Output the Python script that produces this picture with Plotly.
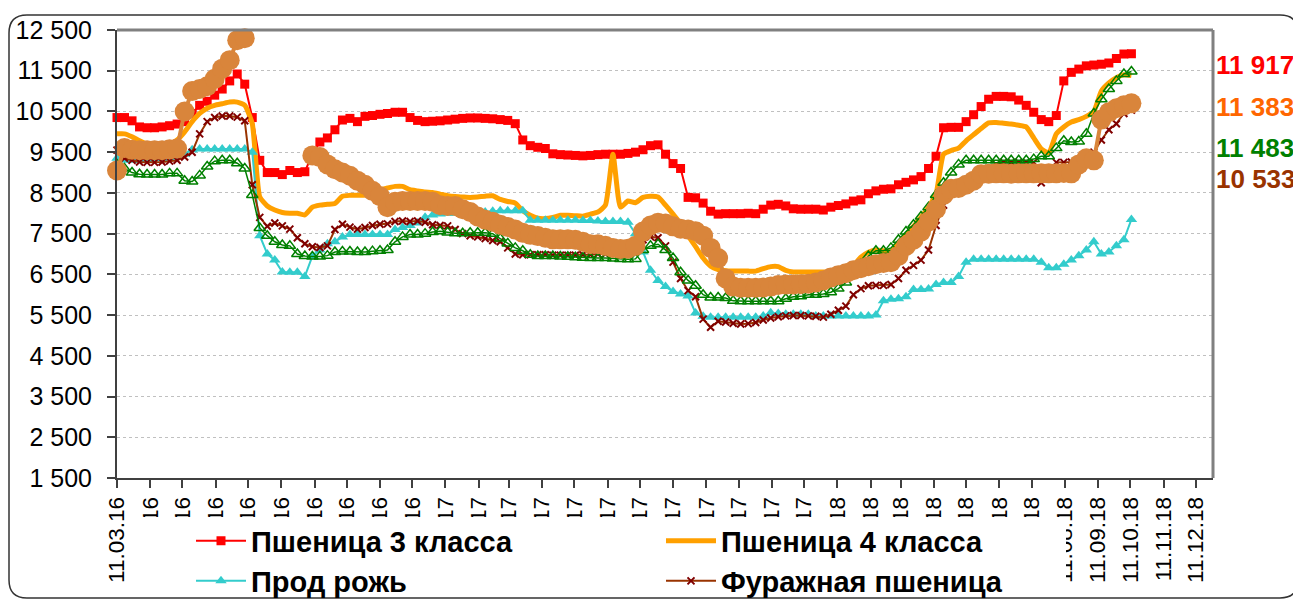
import plotly.graph_objects as go
import pandas as pd

# ---------------- data ----------------
start_date = "2016-03-11"
n_weeks = 136
dates = pd.date_range(start_date, periods=n_weeks, freq="7D")

wheat3 = [10350, 10350, 10270, 10120, 10100, 10100, 10120, 10150, 10190, 10250,
          10450, 10650, 10750, 10900, 11050, 11250, 11420, 11170, 10350, 9300,
          9000, 9000, 8950, 9050, 9000, 9020, 9450, 9750, 9850, 10050,
          10290, 10330, 10250, 10380, 10400, 10430, 10450, 10480, 10480, 10350,
          10280, 10250, 10260, 10270, 10290, 10310, 10330, 10340, 10340, 10330,
          10320, 10300, 10280, 10200, 9800, 9660, 9620, 9590, 9460, 9440,
          9430, 9420, 9410, 9420, 9440, 9450, 9450, 9450, 9470, 9500,
          9560, 9660, 9680, 9450, 9220, 9100, 8390, 8380, 8250, 8050,
          7980, 7990, 7990, 7990, 8000, 7990, 8100, 8200, 8220, 8180,
          8110, 8100, 8100, 8100, 8080, 8150, 8190, 8230, 8300, 8330,
          8480, 8550, 8590, 8600, 8700, 8760, 8820, 8900, 9100, 9400,
          10100, 10110, 10110, 10250, 10420, 10620, 10800, 10870, 10870, 10860,
          10780, 10650, 10480, 10300, 10250, 10400, 11250, 11460, 11540, 11620,
          11640, 11660, 11690, 11800, 11910, 11917]

wheat4 = [9950, 9950, 9880, 9780, 9700, 9650, 9650, 9700, 9800, 10000,
          10250, 10450, 10580, 10650, 10690, 10730, 10730, 10650, 10200, 8400,
          8180, 8080, 8020, 8000, 8000, 7960, 8150, 8200, 8220, 8240,
          8420, 8440, 8440, 8450, 8500, 8580, 8620, 8660, 8660, 8580,
          8550, 8520, 8510, 8470, 8430, 8410, 8400, 8390, 8400, 8420,
          8430, 8340, 8290, 8250, 8060, 7950, 7880, 7870, 7900, 7950,
          7950, 7940, 7930, 7980, 8030, 8200, 9450, 8150, 8300, 8260,
          8390, 8420, 8400, 8200, 7980, 7750, 7450, 7180, 6900, 6700,
          6620, 6590, 6580, 6580, 6580, 6580, 6640, 6690, 6690, 6600,
          6560, 6560, 6560, 6560, 6560, 6560, 6570, 6600, 6720, 6920,
          7040, 7100, 7080, 7060, 7250, 7450, 7680, 7900, 8150, 8480,
          9450, 9540, 9600, 9780, 9930, 10080, 10220, 10230, 10210, 10190,
          10160, 10120, 9850, 9580, 9480, 9950, 10120, 10240, 10300, 10380,
          10500, 11000, 11200, 11330, 11400, 11383]

rye = [9350, 9300, 9300, 9300, 9320, 9340, 9350, 9350, 9380, 9450,
       9560, 9580, 9580, 9580, 9580, 9580, 9580, 9580, 9500, 7450,
       7000, 6850, 6560, 6550, 6550, 6450, 6950, 7100, 7250, 7300,
       7420, 7480, 7480, 7480, 7480, 7480, 7480, 7600, 7650, 7700,
       7760, 7900, 7960, 7980, 8000, 8000, 8000, 8000, 8010, 8030,
       8050, 8060, 8060, 8060, 8060, 7830, 7830, 7830, 7830, 7830,
       7830, 7830, 7820, 7820, 7810, 7800, 7800, 7800, 7780, 7500,
       7050, 6600, 6350, 6200, 6080, 6020, 5970, 5550, 5470, 5450,
       5450, 5450, 5450, 5450, 5450, 5450, 5480, 5560, 5540, 5520,
       5520, 5520, 5520, 5480, 5480, 5480, 5480, 5480, 5480, 5480,
       5480, 5500, 5850, 5890, 5900, 5950, 6130, 6130, 6140, 6250,
       6300, 6300, 6450, 6800, 6870, 6870, 6870, 6870, 6870, 6870,
       6870, 6870, 6870, 6800, 6660, 6660, 6750, 6850, 6960, 7100,
       7300, 7000, 7050, 7200, 7350, 7850]

feed = [9550, 9350, 9300, 9260, 9250, 9250, 9260, 9280, 9300, 9380,
        9500, 9950, 10250, 10350, 10390, 10390, 10360, 10270, 8700, 7900,
        7680, 7760, 7690, 7610, 7400, 7250, 7180, 7160, 7200, 7600,
        7730, 7660, 7610, 7650, 7700, 7730, 7740, 7800, 7810, 7800,
        7810, 7780, 7720, 7700, 7690, 7600, 7500, 7450, 7420, 7380,
        7330, 7300, 7150, 7000, 6980, 6980, 6980, 6980, 6970, 6970,
        6970, 6970, 6980, 6980, 7000, 7000, 7050, 7100, 7150, 7250,
        7350, 7420, 7400, 7200, 6800, 6400, 6100, 5950, 5400, 5200,
        5350, 5330, 5300, 5280, 5290, 5320, 5380, 5430, 5460, 5480,
        5490, 5490, 5480, 5470, 5450, 5520, 5620, 5720, 6000, 6150,
        6220, 6230, 6230, 6250, 6400, 6600, 6720, 6850, 7100, 7700,
        8200, 8500, 8650, 8800, 8900, 9000, 9100, 9200, 9250, 9250,
        9250, 9250, 9250, 8750, 8900, 9250, 9250, 9260, 9280, 9300,
        9500, 9800, 10050, 10200, 10450, 10533]

series5 = [9200, 9100, 9000, 8960, 8950, 8950, 8950, 8980, 8980, 8800,
           8780, 8930, 9150, 9280, 9300, 9300, 9230, 9100, 8450, 7640,
           7450, 7300, 7220, 7200, 7000, 6950, 6940, 6940, 6960, 7050,
           7060, 7060, 7050, 7050, 7070, 7080, 7100, 7300, 7420, 7480,
           7480, 7500, 7540, 7560, 7530, 7510, 7510, 7520, 7520, 7520,
           7500, 7380, 7260, 7150, 7080, 6980, 6950, 6950, 6950, 6940,
           6930, 6920, 6910, 6900, 6900, 6900, 6890, 6880, 6870, 6880,
           7100, 7200, 7240, 7100, 6900, 6550, 6350, 6220, 6000, 5930,
           5930, 5920, 5850, 5840, 5840, 5840, 5840, 5840, 5840, 5900,
           5950, 5960, 6000, 6000, 6020, 6060, 6150, 6300, 6500, 6750,
           6950, 7080, 7080, 7150, 7350, 7550, 7720, 7920, 8150, 8450,
           8750, 9000, 9200, 9300, 9300, 9300, 9300, 9300, 9300, 9300,
           9300, 9300, 9330, 9400, 9400, 9600, 9780, 9750, 9760, 9950,
           10450, 10800, 11050, 11250, 11420, 11483]

series6 = [9050, 9600, 9560, 9550, 9550, 9550, 9550, 9570, 9590, 10500,
           11000, 11050, 11120, 11300, 11550, 11760, 12250, 12300, None, None,
           None, None, None, None, None, None, 9420, 9380, 9200, 9080,
           9000, 8920, 8800, 8700, 8550, 8420, 8150, 8280, 8300, 8300,
           8300, 8300, 8280, 8200, 8180, 8180, 8100, 8030, 7920, 7840,
           7790, 7720, 7660, 7600, 7520, 7470, 7440, 7400, 7360, 7360,
           7360, 7350, 7300, 7240, 7240, 7200, 7150, 7120, 7130, 7200,
           7550, 7700, 7770, 7750, 7680, 7620, 7600, 7560, 7450, 7150,
           6900, 6400, 6200, 6170, 6170, 6170, 6180, 6200, 6240, 6250,
           6250, 6260, 6270, 6300, 6350, 6420, 6480, 6530, 6600, 6650,
           6700, 6750, 6780, 6800, 6950, 7200, 7350, 7550, 7800, 8100,
           8450, 8600, 8620, 8700, 8800, 8960, 8970, 8980, 8980, 8970,
           8980, 8980, 8980, 8980, 8980, 8980, 8990, 8980, 9200, 9350,
           9300, 10300, 10480, 10580, 10650, 10700]

names = ["Пшеница 3 класса", "Пшеница 4 класса", "Прод рожь", "Фуражная пшеница"]
y_ticks = [1500, 2500, 3500, 4500, 5500, 6500, 7500, 8500, 9500, 10500, 11500, 12500]


def fmt(v):
    return f"{v:,}".replace(",", " ")


y_tick_text = [fmt(v) for v in y_ticks]

# ---------------- figure ----------------
FONT = "Liberation Sans, Arial, sans-serif"
fig = go.Figure()

fig.add_trace(go.Scatter(x=dates, y=wheat3, name=names[0], mode="lines+markers",
                         line=dict(color="#FF0000", width=2),
                         marker=dict(symbol="square", size=9, color="#FF0000"),
                         legend="legend", cliponaxis=False))
fig.add_trace(go.Scatter(x=dates, y=wheat4, name=names[1], mode="lines",
                         line=dict(color="#FFA000", width=5, shape="spline", smoothing=0.5),
                         legend="legend", cliponaxis=False))
fig.add_trace(go.Scatter(x=dates, y=rye, name=names[2], mode="lines+markers",
                         line=dict(color="#33CCCC", width=2),
                         marker=dict(symbol="triangle-up", size=10, color="#33CCCC"),
                         legend="legend2", cliponaxis=False))
fig.add_trace(go.Scatter(x=dates, y=feed, name=names[3], mode="lines+markers",
                         line=dict(color="#993300", width=2),
                         marker=dict(symbol="x-thin", size=7, color="#800000",
                                     line=dict(color="#800000", width=2)),
                         legend="legend2", cliponaxis=False))
fig.add_trace(go.Scatter(x=dates, y=series5, name="Ряд 5", mode="lines+markers",
                         line=dict(color="#008000", width=1.5),
                         marker=dict(symbol="triangle-up-open", size=10, color="#008000",
                                     line=dict(color="#008000", width=1.5)),
                         showlegend=False, cliponaxis=False))
fig.add_trace(go.Scatter(x=dates, y=series6, name="Ряд 6", mode="lines+markers",
                         line=dict(color="#D9853B", width=4),
                         marker=dict(symbol="circle", size=20, color="#D9853B"),
                         showlegend=False, cliponaxis=False, connectgaps=False))

# ---- layout geometry (screen pixels; the page body adds an 8px offset) ----
OFF = 8
W_SCREEN, H_SCREEN = 1301, 603
L, R, T, B = 117, 1213, 30, 478          # plot area on screen
W, H = W_SCREEN - OFF, H_SCREEN - OFF    # figure size


def px(xs):
    return (xs - L) / (R - L)


def py(ys):
    return (B - ys) / (B - T)


r = 18
x0b, x1b, y0b, y1b = 9, 1298, 15, 598
pts = [
    ("M", (x0b + r, y0b)), ("L", (x1b - r, y0b)), ("Q", (x1b, y0b), (x1b, y0b + r)),
    ("L", (x1b, y1b - r)), ("Q", (x1b, y1b), (x1b - r, y1b)),
    ("L", (x0b + r, y1b)), ("Q", (x0b, y1b), (x0b, y1b - r)),
    ("L", (x0b, y0b + r)), ("Q", (x0b, y0b), (x0b + r, y0b)),
]
path = ""
for seg in pts:
    cmd = seg[0]
    coords = " ".join(f"{px(a):.5f},{py(b):.5f}" for a, b in seg[1:])
    path += f"{cmd}{coords} "
path += "Z"

shapes = [
    dict(type="rect", xref="paper", yref="paper", x0=px(135), x1=px(1066),
         y0=py(517), y1=py(615), fillcolor="white", line=dict(width=0), layer="above"),
    dict(type="line", xref="paper", yref="paper", x0=0, x1=1, y0=1, y1=1,
         line=dict(color="#808080", width=3), layer="above"),
    dict(type="line", xref="paper", yref="paper", x0=1, x1=1, y0=0, y1=1,
         line=dict(color="#808080", width=3), layer="above"),
    dict(type="path", xref="paper", yref="paper", path=path,
         line=dict(color="#333333", width=1.5), fillcolor="rgba(0,0,0,0)", layer="above"),
]

label_colors = ["#FF0000", "#FF6600", "#008000", "#993300"]
label_values = [wheat3[-1], wheat4[-1], series5[-1], feed[-1]]
label_y = [65, 107, 148, 179]
annotations = [
    dict(x=1, y=py(yy), xref="paper", yref="paper", xanchor="left", yanchor="middle",
         xshift=1, text=fmt(v), showarrow=False,
         font=dict(family=FONT, size=26, color=c, weight="bold"))
    for v, c, yy in zip(label_values, label_colors, label_y)
]

legend_common = dict(orientation="h", xanchor="left", yanchor="middle",
                     bgcolor="rgba(0,0,0,0)", borderwidth=0,
                     font=dict(family=FONT, size=29, color="black", weight="bold"),
                     entrywidth=405, entrywidthmode="pixels", itemwidth=50)

fig.update_layout(
    template="none",
    width=W, height=H,
    margin=dict(l=L - OFF, r=W - (R - OFF), t=T - OFF, b=H - (B - OFF), autoexpand=False),
    paper_bgcolor="white", plot_bgcolor="white",
    font=dict(family=FONT, size=24, color="black"),
    showlegend=True,
    legend=dict(x=px(191), y=py(541), **legend_common),
    legend2=dict(x=px(191), y=py(581), **legend_common),
    xaxis=dict(type="date", range=["2016-03-11", "2018-12-27"],
               tick0="2016-03-11", dtick="M1", tickformat="%d.%m.%y",
               tickangle=-90, ticks="outside", ticklen=8, tickwidth=1.5,
               tickcolor="#404040", showline=True, linecolor="#404040", linewidth=2,
               showgrid=False, zeroline=False, automargin=False,
               tickfont=dict(family=FONT, size=22.5, color="black")),
    yaxis=dict(range=[1500, 12500], tickvals=y_ticks, ticktext=y_tick_text,
               ticks="outside", ticklen=8, tickwidth=1.5, tickcolor="#404040",
               showline=True, linecolor="#404040", linewidth=2,
               showgrid=True, gridcolor="#C0C0C0", gridwidth=1, griddash="dot",
               zeroline=False, automargin=False, ticklabelstandoff=10,
               tickfont=dict(family=FONT, size=25, color="black")),
    shapes=shapes,
    annotations=annotations,
)

fig.write_html("out.html")
